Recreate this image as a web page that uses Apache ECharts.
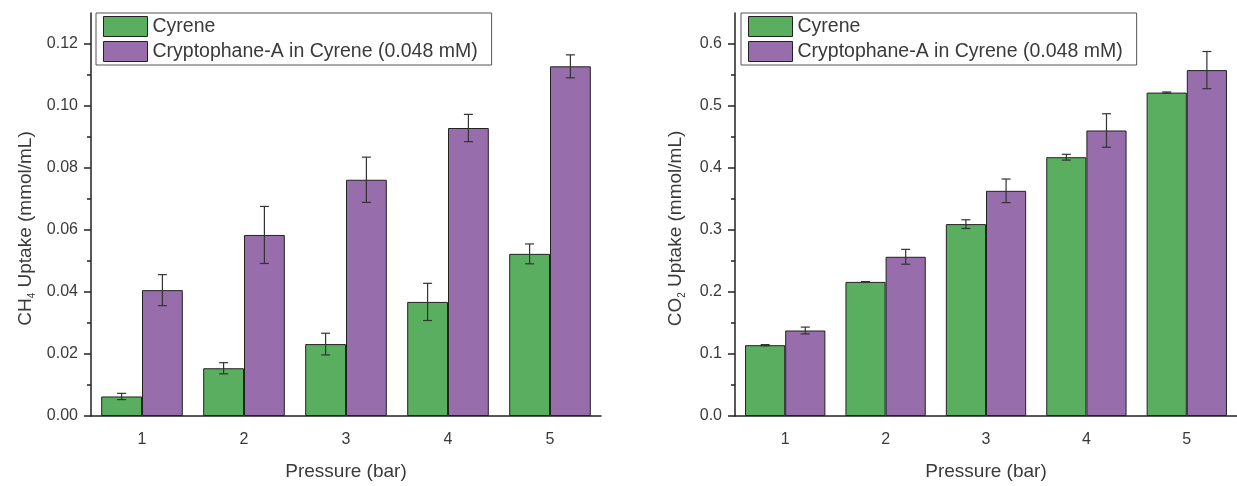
<!DOCTYPE html>
<html>
<head>
<meta charset="utf-8">
<script src="https://cdn.jsdelivr.net/npm/echarts@6/dist/echarts.min.js"></script>
<style>
  html, body { margin: 0; padding: 0; background: #fff; }
  #chart { width: 1237px; height: 486px; }
</style>
</head>
<body>
<div id="chart"></div>
<script>
// ========== 数据 ==========
const pressures = ["1", "2", "3", "4", "5"];
const seriesNames = ["Cyrene", "Cryptophane-A in Cyrene (0.048 mM)"];

const ch4Cyrene = [0.0063, 0.0154, 0.0232, 0.0368, 0.0523];
const ch4CyreneErr = [0.001, 0.0018, 0.0035, 0.006, 0.0032];
const ch4Crypto = [0.0406, 0.0584, 0.0762, 0.0929, 0.1128];
const ch4CryptoErr = [0.005, 0.0092, 0.0073, 0.0044, 0.0037];

const co2Cyrene = [0.1142, 0.2163, 0.3095, 0.4174, 0.5216];
const co2CyreneErr = [0.001, 0.0005, 0.007, 0.0047, 0.001];
const co2Crypto = [0.1379, 0.2568, 0.3632, 0.4605, 0.5579];
const co2CryptoErr = [0.0055, 0.012, 0.019, 0.027, 0.03];

const ch4MajorTicks = [0, 0.02, 0.04, 0.06, 0.08, 0.1, 0.12];
const ch4MinorTicks = [0.01, 0.03, 0.05, 0.07, 0.09, 0.11];
const co2MajorTicks = [0, 0.1, 0.2, 0.3, 0.4, 0.5, 0.6];
const co2MinorTicks = [0.05, 0.15, 0.25, 0.35, 0.45, 0.55];

// ========== 样式 ==========
const FONT = "Liberation Sans, Arial, sans-serif";
const GREEN = "#5aae5f";
const PURPLE = "#976dab";
const LINE = "#222";
const TEXT = "#3a3a3a";

const chart = echarts.init(document.getElementById("chart"));

function errorData(values, errs) {
  return values.map((v, i) => [i, v, errs[i]]);
}

// 误差棒: side = -1 左柱, +1 右柱
function errorRenderer(side) {
  return function (params, api) {
    const idx = api.value(0);
    const mid = api.value(1);
    const err = api.value(2);
    const band = api.size([1, 0])[0];
    const barW = (band * 0.8) / 2;
    const x = api.coord([idx, mid])[0] + (side * barW) / 2;
    const hi = api.coord([idx, mid + err])[1];
    const lo = api.coord([idx, mid - err])[1];
    const cap = 4.5;
    const style = { stroke: "#333", lineWidth: 1.2 };
    return {
      type: "group",
      children: [
        { type: "line", shape: { x1: x, y1: hi, x2: x, y2: lo }, style },
        { type: "line", shape: { x1: x - cap, y1: hi, x2: x + cap, y2: hi }, style },
        { type: "line", shape: { x1: x - cap, y1: lo, x2: x + cap, y2: lo }, style },
      ],
    };
  };
}

function xAxes(gridIndex) {
  return [
    {
      type: "category",
      gridIndex,
      data: pressures,
      name: "Pressure (bar)",
      nameLocation: "middle",
      nameGap: 46,
      nameTextStyle: { fontSize: 19, color: TEXT, fontFamily: FONT },
      axisLine: { lineStyle: { color: LINE, width: 1.5 } },
      axisTick: { alignWithLabel: true, length: 7, lineStyle: { color: LINE, width: 1.5 } },
      axisLabel: { fontSize: 16, color: TEXT, fontFamily: FONT, margin: 16 },
      splitLine: { show: false },
    },
    {
      type: "category",
      gridIndex,
      data: pressures,
      position: "bottom",
      axisLine: { show: false },
      axisTick: { length: 4, lineStyle: { color: LINE, width: 1.5 } },
      axisLabel: { show: false },
      splitLine: { show: false },
    },
  ];
}

function yAxes(gridIndex, max, major, minor, digits, nameRich, gap) {
  return [
    {
      type: "value",
      gridIndex,
      min: 0,
      max,
      name: nameRich,
      nameLocation: "middle",
      nameGap: gap,
      nameTextStyle: {
        fontSize: 19,
        color: TEXT,
        fontFamily: FONT,
        lineHeight: 22,
        padding: [0, 28, 0, 0],
        rich: {
          sub: { fontSize: 10, lineHeight: 10, verticalAlign: "bottom", color: TEXT, fontFamily: FONT },
        },
      },
      axisLine: { show: true, lineStyle: { color: LINE, width: 1.5 } },
      axisTick: { show: true, length: 7, customValues: major, lineStyle: { color: LINE, width: 1.5 } },
      axisLabel: {
        customValues: major,
        fontSize: 16,
        color: TEXT,
        fontFamily: FONT,
        margin: 13,
        formatter: (v) => v.toFixed(digits),
      },
      splitLine: { show: false },
    },
    {
      type: "value",
      gridIndex,
      min: 0,
      max,
      position: "left",
      axisLine: { show: false },
      axisTick: { show: true, length: 4, customValues: minor, lineStyle: { color: LINE, width: 1.5 } },
      axisLabel: { show: false },
      splitLine: { show: false },
    },
  ];
}

function barSeries(name, data, xi, yi, color) {
  return {
    name,
    type: "bar",
    xAxisIndex: xi,
    yAxisIndex: yi,
    data,
    barGap: "0%",
    barCategoryGap: "20%",
    itemStyle: { color, borderColor: LINE, borderWidth: 1 },
    z: 2,
  };
}

function errSeries(values, errs, xi, yi, side) {
  return {
    name: "err",
    type: "custom",
    xAxisIndex: xi,
    yAxisIndex: yi,
    data: errorData(values, errs),
    encode: { x: 0, y: 1 },
    renderItem: errorRenderer(side),
    z: 5,
    silent: true,
  };
}

function legend(left) {
  return {
    data: seriesNames,
    orient: "vertical",
    left,
    top: 13,
    icon: "rect",
    itemWidth: 44,
    itemHeight: 20,
    itemGap: 4,
    padding: [3, 14, 3, 7],
    borderColor: "#555",
    borderWidth: 1,
    selectedMode: false,
    itemStyle: { borderColor: LINE, borderWidth: 1 },
    textStyle: { fontSize: 19.5, color: TEXT, fontFamily: FONT },
  };
}

chart.setOption({
  backgroundColor: "#fff",
  animation: false,
  legend: [legend(96), legend(741)],
  grid: [
    { left: 91, top: 13, width: 510, height: 411 },
    { left: 735, top: 13, width: 512, height: 411 },
  ],
  xAxis: [...xAxes(0), ...xAxes(1)],
  yAxis: [
    ...yAxes(0, 0.13, ch4MajorTicks, ch4MinorTicks, 2, "CH{sub|4} Uptake (mmol/mL)", 54),
    ...yAxes(1, 0.65, co2MajorTicks, co2MinorTicks, 1, "CO{sub|2} Uptake (mmol/mL)", 48),
  ],
  series: [
    barSeries(seriesNames[0], ch4Cyrene, 0, 0, GREEN),
    barSeries(seriesNames[1], ch4Crypto, 0, 0, PURPLE),
    errSeries(ch4Cyrene, ch4CyreneErr, 0, 0, -1),
    errSeries(ch4Crypto, ch4CryptoErr, 0, 0, 1),
    barSeries(seriesNames[0], co2Cyrene, 2, 2, GREEN),
    barSeries(seriesNames[1], co2Crypto, 2, 2, PURPLE),
    errSeries(co2Cyrene, co2CyreneErr, 2, 2, -1),
    errSeries(co2Crypto, co2CryptoErr, 2, 2, 1),
  ],
});

window.addEventListener("resize", () => chart.resize());
</script>
</body>
</html>
